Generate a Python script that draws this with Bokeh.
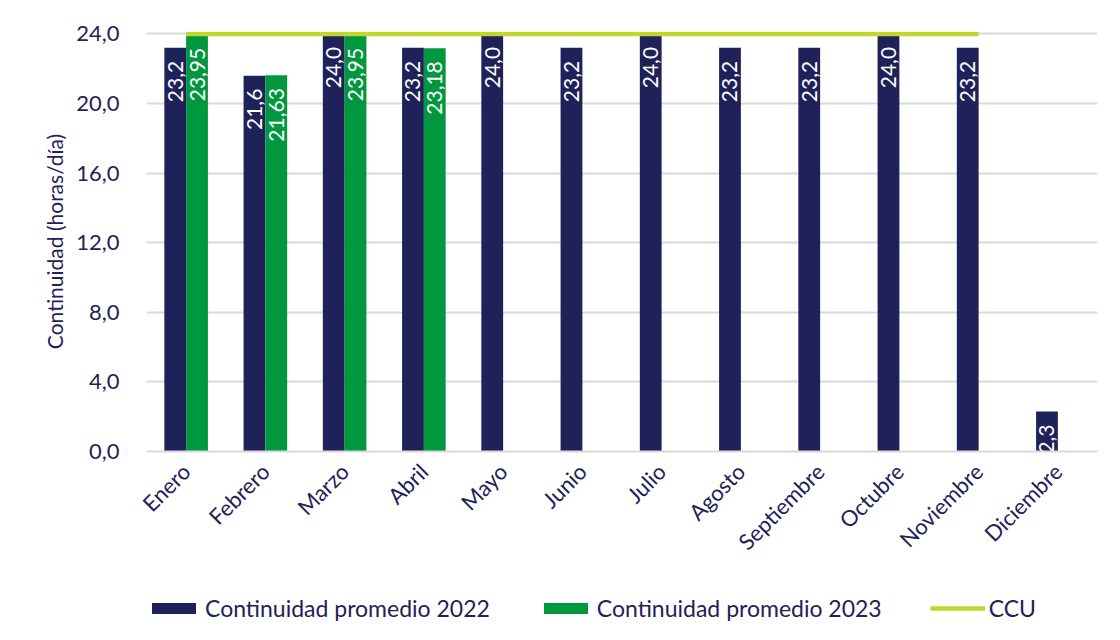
import math
from bokeh.plotting import figure
from bokeh.layouts import column
from bokeh.models import (FactorRange, Range1d, Legend, LegendItem, ColumnDataSource,
                          CustomJSTickFormatter, FixedTicker)
from bokeh.transform import dodge
from bokeh.core.properties import value
from bokeh.embed import file_html
from bokeh.resources import INLINE

months = ["Enero", "Febrero", "Marzo", "Abril", "Mayo", "Junio", "Julio",
          "Agosto", "Septiembre", "Octubre", "Noviembre", "Diciembre"]
cont_2022 = [23.2, 21.6, 24.0, 23.2, 24.0, 23.2, 24.0, 23.2, 23.2, 24.0, 23.2, 2.3]
cont_2023 = [23.95, 21.63, 23.95, 23.18]
ccu = [24.0] * 11
y_ticks = [0, 4, 8, 12, 16, 20, 24]
series_names = ["Continuidad promedio 2022", "Continuidad promedio 2023", "CCU"]

NAVY = "#1F2259"
GREEN = "#00983F"
LIME = "#C1D72E"
TEXT = "#1F2257"
FONT = "Lato"

p = figure(x_range=FactorRange(*months, range_padding=0), y_range=Range1d(0, 24.14),
           width=1104, height=584, output_backend="svg", toolbar_location=None,
           min_border_left=146, min_border_right=7, min_border_top=31, min_border_bottom=133)

s22 = ColumnDataSource(dict(x=months, y=cont_2022,
                            lab=[f"{v:.1f}".replace(".", ",") for v in cont_2022]))
s23 = ColumnDataSource(dict(x=months[:len(cont_2023)], y=cont_2023,
                            lab=[f"{v:.2f}".replace(".", ",") for v in cont_2023]))

bw = 0.275
p.vbar(x=dodge("x", -bw / 2, range=p.x_range), top="y", width=bw, source=s22,
       fill_color=NAVY, line_color=None)
p.vbar(x=dodge("x", bw / 2, range=p.x_range), top="y", width=bw, source=s23,
       fill_color=GREEN, line_color=None)
p.line(x=months[:len(ccu)], y=ccu, line_color=LIME, line_width=4.5)

for src, off in ((s22, -bw / 2), (s23, bw / 2)):
    p.text(x=dodge("x", off, range=p.x_range), y="y", text="lab", source=src,
           angle=math.pi / 2, text_align="right", text_baseline="middle",
           y_offset=13, text_color="white", text_font=value(FONT),
           text_font_size="21px")

p.xgrid.grid_line_color = None
p.ygrid.grid_line_color = "#D9D9D9"
p.ygrid.grid_line_width = 2
p.outline_line_color = None

p.yaxis.ticker = FixedTicker(ticks=y_ticks)
p.yaxis.formatter = CustomJSTickFormatter(code="return tick.toFixed(1).replace('.', ',');")
p.yaxis.axis_label = "Continuidad (horas/día)"
p.yaxis.axis_label_text_font_style = "normal"
p.yaxis.axis_label_text_font_size = "21px"
p.yaxis.axis_label_text_font = FONT
p.yaxis.axis_label_text_color = TEXT
p.yaxis.axis_label_standoff = 6

for ax in (p.xaxis[0], p.yaxis[0]):
    ax.axis_line_color = None
    ax.major_tick_line_color = None
    ax.minor_tick_line_color = None
    ax.major_label_text_font = FONT
    ax.major_label_text_font_size = "22px"
    ax.major_label_text_color = TEXT
p.yaxis.major_label_standoff = 21
p.xaxis.major_label_orientation = math.pi / 4
p.xaxis.major_label_standoff = 10
p.xaxis.axis_line_color = "#D9D9D9"
p.xaxis.axis_line_width = 2

# legend strip (same styles as the chart series; swatch renderers hold no visible data)
nan = float("nan")
lg = figure(width=1104, height=40, output_backend="svg", toolbar_location=None,
            x_range=Range1d(0, 1), y_range=Range1d(0, 1),
            min_border_left=0, min_border_right=0, min_border_top=0, min_border_bottom=0)
lg.axis.visible = False
lg.grid.grid_line_color = None
lg.outline_line_color = None
k1 = lg.vbar(x=[nan], top=[nan], width=0.1, fill_color=NAVY, line_color=None)
k2 = lg.vbar(x=[nan], top=[nan], width=0.1, fill_color=GREEN, line_color=None)
k3 = lg.line(x=[nan], y=[nan], line_color=LIME, line_width=4.5)
legend = Legend(items=[LegendItem(label=n, renderers=[r]) for n, r in zip(series_names, (k1, k2, k3))],
                orientation="horizontal", location=(0, 2),
                label_text_font=FONT, label_text_font_size="23px", label_text_color=TEXT,
                glyph_width=55, glyph_height=14, spacing=48, label_standoff=4,
                border_line_color=None, background_fill_alpha=0, margin=0, padding=4)
lg.add_layout(legend, "center")

open("out.html", "w").write(file_html(column(p, lg, spacing=0), INLINE))
